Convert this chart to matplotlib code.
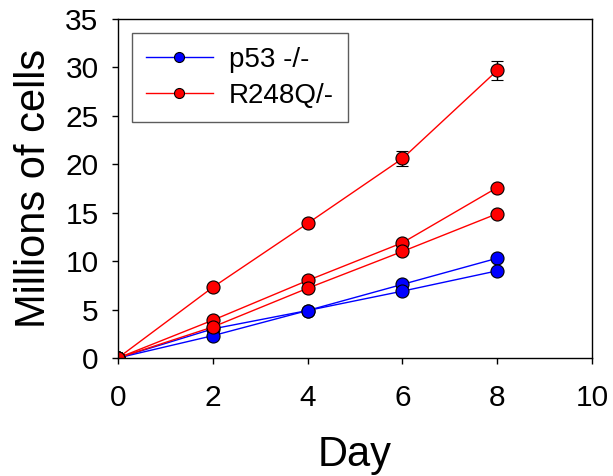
import matplotlib
matplotlib.use("Agg")
import matplotlib.pyplot as plt
from matplotlib.lines import Line2D

plt.rcParams['font.family'] = ['Liberation Sans', 'DejaVu Sans']

# days
days = [0, 2, 4, 6, 8]

# p53 -/- (blue)
p53_a = [0, 3.0, 4.9, 7.6, 10.3]
p53_b = [0, 2.3, 4.9, 6.9, 9.0]

# R248Q/- (red)
r248_a = [0, 7.3, 13.9, 20.6, 29.7]
r248_a_err = [0, 0, 0, 0.8, 1.0]
r248_b = [0, 3.9, 8.0, 11.9, 17.6]
r248_c = [0, 3.2, 7.2, 11.0, 14.9]

fig = plt.figure(figsize=(6.13, 4.76), dpi=100)
ax = fig.add_axes([0.1925, 0.248, 0.7735, 0.712])

mk = dict(marker="o", markersize=9.4, markeredgecolor="black",
          markeredgewidth=0.8, linewidth=1)

ax.plot(days, p53_a, color="blue", markerfacecolor="blue", **mk)
ax.plot(days, p53_b, color="blue", markerfacecolor="blue", **mk)

ax.errorbar(days, r248_a, yerr=r248_a_err, color="red", markerfacecolor="red",
            ecolor="black", elinewidth=1, capsize=4, capthick=1, **mk)
ax.plot(days, r248_b, color="red", markerfacecolor="red", **mk)
ax.plot(days, r248_c, color="red", markerfacecolor="red", **mk)

ax.set_xlim(0, 10)
ax.set_ylim(0, 35)
ax.set_xticks(range(0, 11, 2))
ax.set_yticks(range(0, 36, 5))
ax.tick_params(direction="out", length=4, width=1, labelsize=21.5)
ax.tick_params(axis="x", pad=15)
ax.tick_params(axis="y", pad=10)
for s in ax.spines.values():
    s.set_linewidth(1)
ax.set_xlabel("Day", fontsize=30, labelpad=16)
ax.set_ylabel("Millions of cells", fontsize=30, labelpad=8)

handles = [
    Line2D([], [], color="blue", marker="o", markersize=7.2, markerfacecolor="blue",
           markeredgecolor="black", markeredgewidth=0.8, linewidth=1),
    Line2D([], [], color="red", marker="o", markersize=7.2, markerfacecolor="red",
           markeredgecolor="black", markeredgewidth=0.8, linewidth=1),
]
leg = ax.legend(handles, ["p53 -/-", "R248Q/-"], loc="upper left",
                bbox_to_anchor=(0.0295, 0.959),
                fontsize=20, frameon=True, fancybox=False, edgecolor="#333333",
                handlelength=2.4, handletextpad=0.6, labelspacing=0.35,
                borderpad=0.5, borderaxespad=0)
leg.get_frame().set_linewidth(1)

fig.savefig("out.png", dpi=100)
